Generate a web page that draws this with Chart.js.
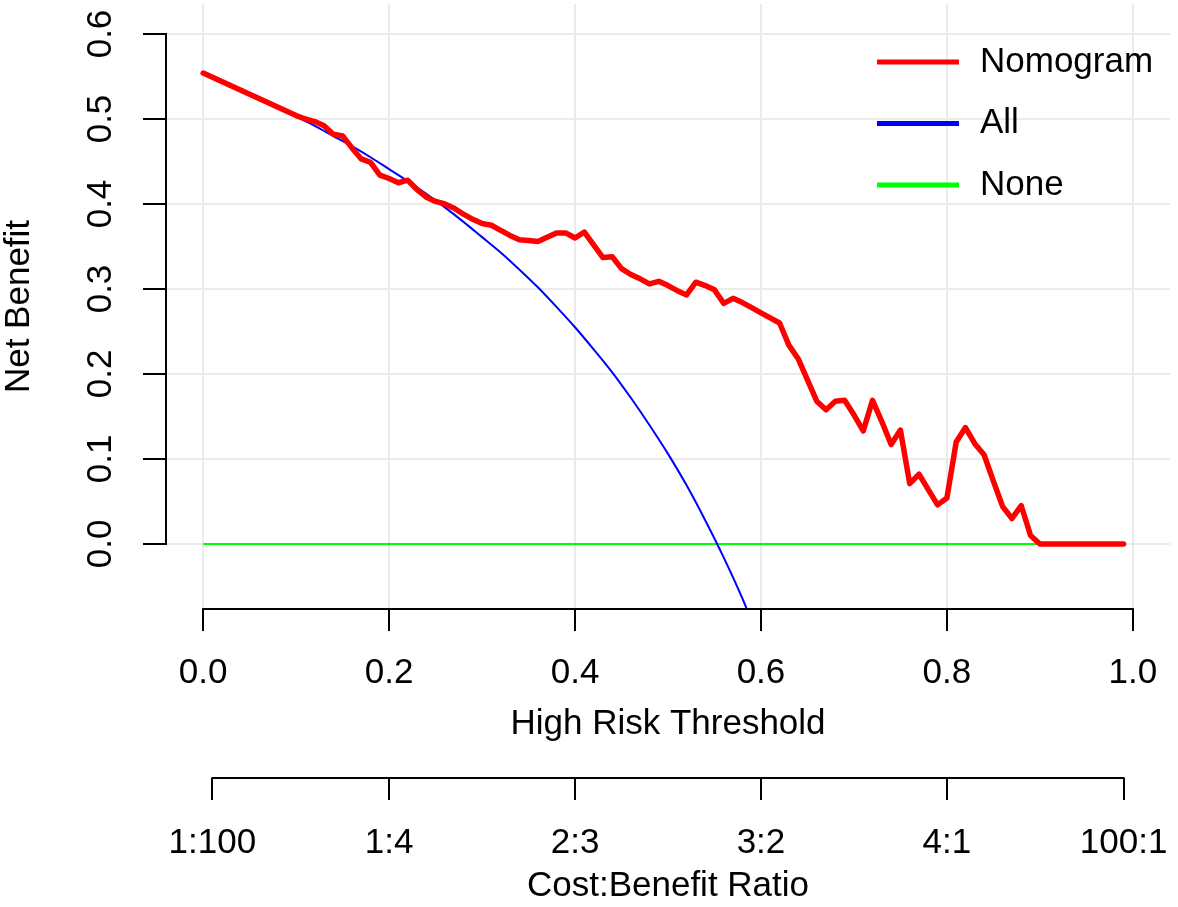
<!DOCTYPE html>
<html>
<head>
<meta charset="utf-8">
<script src="https://cdn.jsdelivr.net/npm/chart.js@4.4.1/dist/chart.umd.min.js"></script>
<style>
  html, body { margin: 0; padding: 0; background: #fff; }
  #wrap { width: 1178px; height: 907px; }
</style>
</head>
<body>
<div id="wrap"><canvas id="dca"></canvas></div>
<script>
// Nomogram net benefit, one value per threshold step of 0.01
const nomogramThreshold = [
  0.00, 0.01, 0.02, 0.03, 0.04, 0.05, 0.06, 0.07, 0.08, 0.09,
  0.10, 0.11, 0.12, 0.13, 0.14, 0.15, 0.16, 0.17, 0.18, 0.19,
  0.20, 0.21, 0.22, 0.23, 0.24, 0.25, 0.26, 0.27, 0.28, 0.29,
  0.30, 0.31, 0.32, 0.33, 0.34, 0.35, 0.36, 0.37, 0.38, 0.39,
  0.40, 0.41, 0.42, 0.43, 0.44, 0.45, 0.46, 0.47, 0.48, 0.49,
  0.50, 0.51, 0.52, 0.53, 0.54, 0.55, 0.56, 0.57, 0.58, 0.59,
  0.60, 0.61, 0.62, 0.63, 0.64, 0.65, 0.66, 0.67, 0.68, 0.69,
  0.70, 0.71, 0.72, 0.73, 0.74, 0.75, 0.76, 0.77, 0.78, 0.79,
  0.80, 0.81, 0.82, 0.83, 0.84, 0.85, 0.86, 0.87, 0.88, 0.89,
  0.90, 0.91, 0.92, 0.93, 0.94, 0.95, 0.96, 0.97, 0.98, 0.99
];
const nomogramBenefit = [
  0.554, 0.549, 0.544, 0.539, 0.534, 0.529, 0.524, 0.519, 0.514, 0.509,
  0.504, 0.500, 0.497, 0.492, 0.482, 0.480, 0.466, 0.453, 0.449, 0.434,
  0.430, 0.425, 0.428, 0.417, 0.408, 0.403, 0.400, 0.395, 0.388, 0.382,
  0.377, 0.375, 0.369, 0.363, 0.358, 0.357, 0.356, 0.361, 0.366, 0.366,
  0.360, 0.367, 0.352, 0.337, 0.338, 0.324, 0.317, 0.312, 0.306, 0.309,
  0.304, 0.298, 0.293, 0.308, 0.304, 0.299, 0.283, 0.289, 0.284, 0.278,
  0.272, 0.266, 0.260, 0.234, 0.218, 0.193, 0.168, 0.158, 0.168, 0.169,
  0.152, 0.133, 0.169, 0.144, 0.117, 0.134, 0.071, 0.082, 0.064, 0.046,
  0.054, 0.120, 0.137, 0.118, 0.105, 0.074, 0.044, 0.030, 0.045, 0.010,
  0.000, 0.000, 0.000, 0.000, 0.000, 0.000, 0.000, 0.000, 0.000, 0.000
];

// treat-all curve
const allThreshold = [
  0.00, 0.02, 0.04, 0.06, 0.08, 0.10, 0.12, 0.14, 0.16, 0.18,
  0.20, 0.22, 0.24, 0.26, 0.28, 0.30, 0.32, 0.34, 0.36, 0.38,
  0.40, 0.42, 0.44, 0.46, 0.48, 0.50, 0.52, 0.54, 0.56, 0.58, 0.60
];
const allBenefit = [
  0.553, 0.544, 0.534, 0.524, 0.514, 0.503, 0.492, 0.480, 0.468, 0.455,
  0.441, 0.427, 0.412, 0.396, 0.379, 0.361, 0.343, 0.323, 0.302, 0.279,
  0.255, 0.229, 0.202, 0.172, 0.140, 0.106, 0.069, 0.028, -0.016, -0.064, -0.118
];

// treat-none line
const noneThreshold = [0.00, 0.99];
const noneBenefit = [0, 0];

const xTicks = [0.0, 0.2, 0.4, 0.6, 0.8, 1.0];
const yTicks = [0.0, 0.1, 0.2, 0.3, 0.4, 0.5, 0.6];
const ratioTicks = [0.0099, 0.2, 0.4, 0.6, 0.8, 0.9901];
const ratioLabels = ['1:100', '1:4', '2:3', '3:2', '4:1', '100:1'];

const toPoints = (xs, ys) => xs.map((x, i) => ({ x: x, y: ys[i] }));

Chart.defaults.font.family = "'Liberation Sans', Arial, Helvetica, sans-serif";
Chart.defaults.font.size = 35;
Chart.defaults.color = '#000';

// R style axis lines: only from first to last tick
const axisLines = {
  id: 'axisLines',
  afterDraw(chart) {
    const { ctx } = chart;
    const { x, x2, y } = chart.scales;
    ctx.save();
    ctx.strokeStyle = '#000';
    ctx.lineWidth = 2;
    ctx.lineCap = 'square';
    ctx.beginPath();
    ctx.moveTo(x.getPixelForValue(xTicks[0]), x.top);
    ctx.lineTo(x.getPixelForValue(xTicks[xTicks.length - 1]), x.top);
    ctx.moveTo(x2.getPixelForValue(ratioTicks[0]), x2.top);
    ctx.lineTo(x2.getPixelForValue(ratioTicks[ratioTicks.length - 1]), x2.top);
    ctx.moveTo(y.right, y.getPixelForValue(yTicks[0]));
    ctx.lineTo(y.right, y.getPixelForValue(yTicks[yTicks.length - 1]));
    ctx.stroke();
    ctx.restore();
  }
};

// legend in the top right corner of the plot
const cornerLegend = {
  id: 'cornerLegend',
  afterDraw(chart) {
    const ctx = chart.ctx;
    ctx.save();
    ctx.font = "35px 'Liberation Sans', Arial, sans-serif";
    ctx.textBaseline = 'middle';
    ctx.textAlign = 'left';
    chart.data.datasets.forEach((ds, i) => {
      const ly = 62 + i * 61.5;
      ctx.strokeStyle = ds.borderColor;
      ctx.lineWidth = 5;
      ctx.beginPath();
      ctx.moveTo(877, ly);
      ctx.lineTo(959, ly);
      ctx.stroke();
      ctx.fillStyle = '#000';
      ctx.fillText(ds.label, 980, ly);
    });
    ctx.restore();
  }
};

new Chart(document.getElementById('dca'), {
  type: 'line',
  data: {
    datasets: [
      {
        label: 'Nomogram',
        data: toPoints(nomogramThreshold, nomogramBenefit),
        borderColor: '#ff0000',
        borderWidth: 5.5,
        borderJoinStyle: 'round',
        borderCapStyle: 'round',
        pointRadius: 0,
        tension: 0
      },
      {
        label: 'All',
        data: toPoints(allThreshold, allBenefit),
        borderColor: '#0000ff',
        borderWidth: 2,
        pointRadius: 0,
        cubicInterpolationMode: 'monotone'
      },
      {
        label: 'None',
        data: toPoints(noneThreshold, noneBenefit),
        borderColor: '#00ff00',
        borderWidth: 2,
        pointRadius: 0
      }
    ]
  },
  options: {
    responsive: true,
    maintainAspectRatio: false,
    animation: false,
    layout: { padding: { left: 0, top: 4, right: 8, bottom: 0 } },
    plugins: {
      legend: { display: false },
      tooltip: { enabled: false }
    },
    scales: {
      x: {
        type: 'linear',
        position: 'bottom',
        weight: 0,
        min: -0.04,
        max: 1.04,
        bounds: 'data',
        afterBuildTicks: s => { s.ticks = xTicks.map(v => ({ value: v })); },
        afterFit: s => { s.height = 169; s.paddingLeft = 0; s.paddingRight = 0; },
        grid: { color: '#ebebeb', lineWidth: 2, tickColor: '#000', tickWidth: 2, tickLength: 22 },
        border: { display: false },
        ticks: { padding: 21, autoSkip: false, maxRotation: 0, callback: v => v.toFixed(1) },
        title: { display: true, text: 'High Risk Threshold', padding: { top: 0, bottom: 33 } }
      },
      x2: {
        type: 'linear',
        position: 'bottom',
        weight: 1,
        min: -0.04,
        max: 1.04,
        bounds: 'data',
        afterBuildTicks: s => { s.ticks = ratioTicks.map(v => ({ value: v })); },
        afterFit: s => { s.height = 129; s.paddingLeft = 0; s.paddingRight = 0; },
        grid: { drawOnChartArea: false, lineWidth: 2, tickColor: '#000', tickWidth: 2, tickLength: 22 },
        border: { display: false },
        ticks: { padding: 22, autoSkip: false, maxRotation: 0, callback: (v, i) => ratioLabels[i] },
        title: { display: true, text: 'Cost:Benefit Ratio', padding: { top: 0, bottom: 0 } }
      },
      y: {
        type: 'linear',
        position: 'left',
        min: -0.0765,
        max: 0.6353,
        bounds: 'data',
        afterBuildTicks: s => { s.ticks = yTicks.map(v => ({ value: v })); },
        afterFit: s => { s.width = 166; s.paddingTop = 0; s.paddingBottom = 0; },
        grid: { color: '#ebebeb', lineWidth: 2, tickColor: '#000', tickWidth: 2, tickLength: 23 },
        border: { display: false },
        ticks: { padding: 17, autoSkip: false, minRotation: 90, maxRotation: 90, crossAlign: 'center', callback: v => v.toFixed(1) },
        title: { display: true, text: 'Net Benefit', padding: { top: -2, bottom: 0 } }
      }
    }
  },
  plugins: [axisLines, cornerLegend]
});
</script>
</body>
</html>
